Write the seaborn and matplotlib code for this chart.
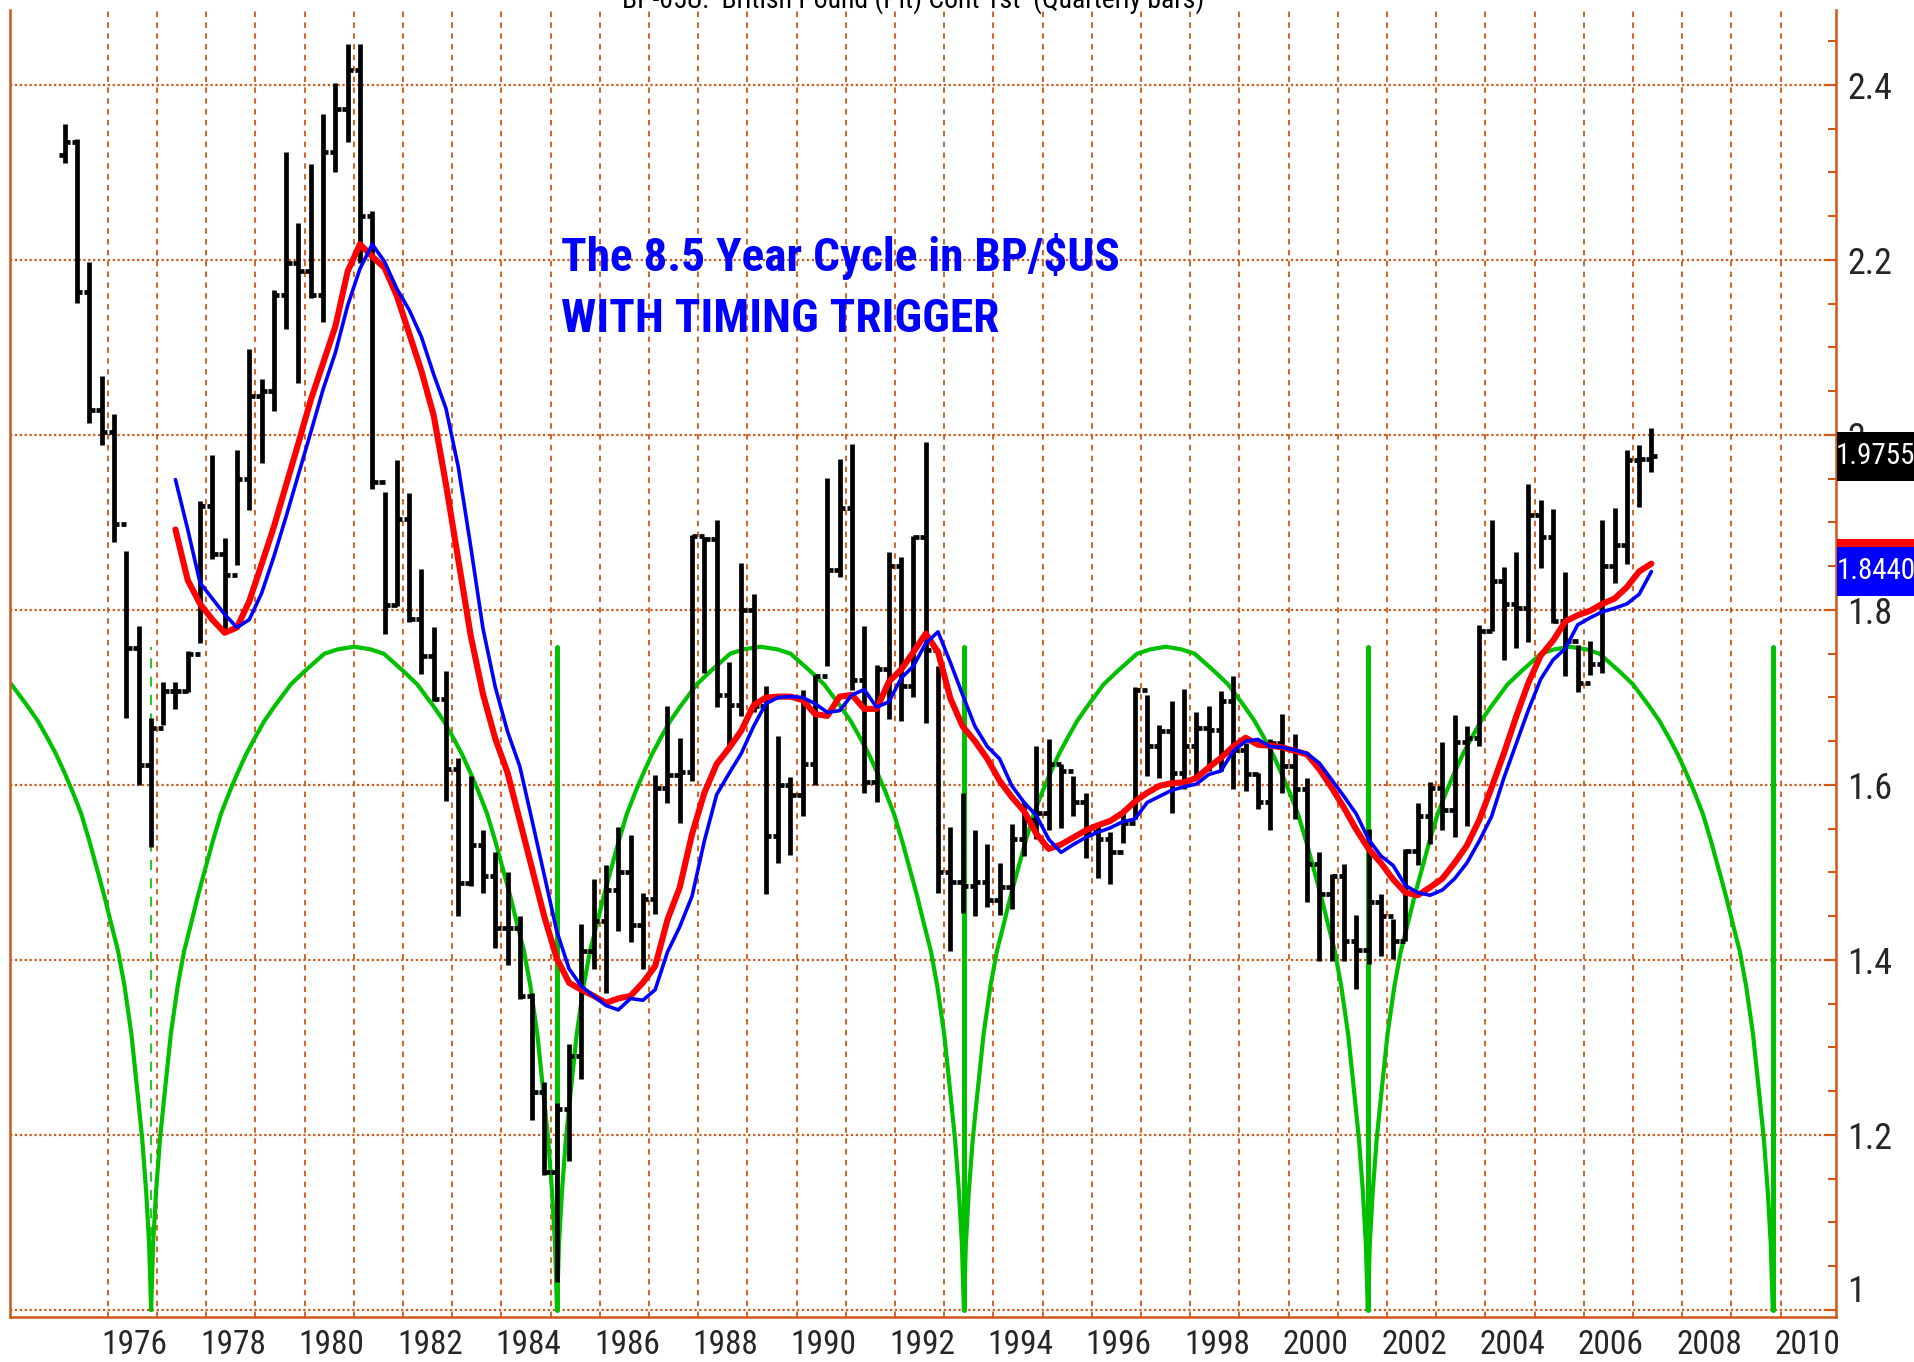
import numpy as np
import pandas as pd
import matplotlib
matplotlib.use('Agg')
import matplotlib.pyplot as plt
import seaborn as sns
from matplotlib import font_manager
from matplotlib.patches import Rectangle
from matplotlib.transforms import blended_transform_factory

sns.set_style('white')

# look for a narrow font, the original uses a condensed sans
names = {f.name for f in font_manager.fontManager.ttflist}
narrow = 'Liberation Sans'
for n in ['Liberation Sans Narrow', 'Arial Narrow', 'Roboto Condensed', 'Open Sans Condensed']:
    if n in names:
        narrow = n
        break
plt.rcParams['font.family'] = [narrow, 'DejaVu Sans']

grid_col = '#cf5719'

# quarterly bars, 1975Q1 .. 2007Q2
highs = [2.355, 2.338, 2.198, 2.067, 2.024, 1.867, 1.782, 1.677, 1.718, 1.718, 1.753, 1.925,
         1.977, 1.882, 1.983, 2.098, 2.064, 2.166, 2.323, 2.242, 2.310, 2.367, 2.402, 2.447,
         2.447, 2.256, 1.935, 1.971, 1.934, 1.847, 1.780, 1.730, 1.631, 1.610, 1.549, 1.523,
         1.500, 1.450, 1.362, 1.260, 1.237, 1.304, 1.441, 1.492, 1.508, 1.552, 1.543, 1.476,
         1.611, 1.690, 1.654, 1.886, 1.883, 1.903, 1.740, 1.854, 1.818, 1.713, 1.656, 1.609,
         1.709, 1.726, 1.951, 1.973, 1.990, 1.782, 1.737, 1.866, 1.860, 1.885, 1.992, 1.736,
         1.552, 1.591, 1.548, 1.532, 1.511, 1.555, 1.580, 1.645, 1.652, 1.624, 1.610, 1.591,
         1.557, 1.546, 1.568, 1.712, 1.703, 1.669, 1.696, 1.710, 1.683, 1.690, 1.707, 1.724,
         1.648, 1.614, 1.652, 1.681, 1.658, 1.608, 1.523, 1.498, 1.510, 1.451, 1.550, 1.475,
         1.447, 1.527, 1.579, 1.603, 1.649, 1.680, 1.667, 1.783, 1.903, 1.849, 1.866, 1.944,
         1.926, 1.915, 1.843, 1.760, 1.765, 1.903, 1.917, 1.983, 1.989, 2.008]
lows = [2.311, 2.151, 2.014, 1.988, 1.878, 1.677, 1.600, 1.529, 1.668, 1.687, 1.706, 1.762,
        1.858, 1.774, 1.851, 1.914, 1.968, 2.027, 2.121, 2.059, 2.157, 2.129, 2.300, 2.335,
        2.196, 1.938, 1.772, 1.804, 1.786, 1.727, 1.696, 1.582, 1.450, 1.484, 1.476, 1.414,
        1.394, 1.355, 1.217, 1.154, 1.032, 1.170, 1.264, 1.390, 1.362, 1.433, 1.421, 1.390,
        1.452, 1.579, 1.556, 1.605, 1.728, 1.689, 1.644, 1.679, 1.683, 1.475, 1.511, 1.520,
        1.565, 1.600, 1.736, 1.838, 1.709, 1.591, 1.581, 1.675, 1.673, 1.700, 1.671, 1.477,
        1.410, 1.454, 1.450, 1.460, 1.451, 1.458, 1.519, 1.538, 1.548, 1.551, 1.565, 1.517,
        1.494, 1.487, 1.534, 1.561, 1.610, 1.608, 1.568, 1.595, 1.610, 1.616, 1.616, 1.595,
        1.593, 1.572, 1.548, 1.591, 1.561, 1.466, 1.399, 1.399, 1.399, 1.367, 1.395, 1.405,
        1.401, 1.422, 1.509, 1.533, 1.549, 1.540, 1.553, 1.645, 1.776, 1.743, 1.756, 1.763,
        1.848, 1.785, 1.724, 1.706, 1.726, 1.728, 1.831, 1.852, 1.918, 1.958]
closes = [2.335, 2.163, 2.029, 2.003, 1.898, 1.757, 1.623, 1.665, 1.707, 1.707, 1.750, 1.919,
          1.864, 1.840, 1.950, 2.045, 2.050, 2.160, 2.196, 2.187, 2.160, 2.323, 2.372, 2.417,
          2.250, 1.946, 1.806, 1.904, 1.790, 1.747, 1.698, 1.618, 1.488, 1.531, 1.496, 1.437,
          1.437, 1.359, 1.249, 1.158, 1.230, 1.290, 1.410, 1.445, 1.480, 1.500, 1.440, 1.470,
          1.597, 1.611, 1.615, 1.885, 1.881, 1.703, 1.691, 1.800, 1.690, 1.542, 1.600, 1.589,
          1.624, 1.724, 1.846, 1.916, 1.720, 1.603, 1.732, 1.850, 1.713, 1.883, 1.754, 1.501,
          1.489, 1.485, 1.489, 1.469, 1.483, 1.538, 1.560, 1.568, 1.624, 1.616, 1.580, 1.546,
          1.538, 1.523, 1.557, 1.709, 1.644, 1.662, 1.614, 1.644, 1.665, 1.663, 1.696, 1.640,
          1.612, 1.580, 1.648, 1.622, 1.595, 1.510, 1.475, 1.496, 1.422, 1.411, 1.466, 1.450,
          1.422, 1.525, 1.564, 1.597, 1.571, 1.649, 1.654, 1.776, 1.833, 1.807, 1.802, 1.909,
          1.883, 1.787, 1.765, 1.717, 1.738, 1.850, 1.874, 1.971, 1.973, 1.9755]
first_open = 2.320

# timing trigger lines, quarterly from 1977Q2
red_line = [1.892, 1.834, 1.807,
            1.789, 1.774, 1.780, 1.810, 1.852, 1.895, 1.943, 1.991, 2.040, 2.082, 2.124, 2.187,
            2.218, 2.204, 2.191, 2.159, 2.116, 2.073, 2.022, 1.943, 1.857, 1.771, 1.704, 1.653,
            1.614, 1.559, 1.504, 1.449, 1.402, 1.374, 1.366, 1.359, 1.351, 1.356, 1.359, 1.374,
            1.393, 1.446, 1.483, 1.544, 1.591, 1.624, 1.642, 1.662, 1.691, 1.700, 1.701, 1.701,
            1.697, 1.681, 1.679, 1.701, 1.703, 1.687, 1.687, 1.718, 1.732, 1.752, 1.773, 1.752,
            1.699, 1.667, 1.650, 1.630, 1.605, 1.586, 1.570, 1.544, 1.527, 1.532, 1.540, 1.548,
            1.554, 1.559, 1.568, 1.581, 1.591, 1.599, 1.602, 1.603, 1.608, 1.620, 1.631, 1.644,
            1.654, 1.646, 1.645, 1.643, 1.639, 1.635, 1.618, 1.597, 1.574, 1.549, 1.527, 1.511,
            1.492, 1.477, 1.474, 1.483, 1.493, 1.511, 1.531, 1.560, 1.597, 1.636, 1.678, 1.717,
            1.748, 1.765, 1.787, 1.794, 1.799, 1.807, 1.813, 1.826, 1.844, 1.853]
blue_line = [1.949, 1.892, 1.831,
             1.813, 1.795, 1.780, 1.789, 1.819, 1.861, 1.907, 1.955, 2.003, 2.052, 2.094, 2.148,
             2.190, 2.218, 2.198, 2.167, 2.143, 2.112, 2.069, 2.030, 1.963, 1.873, 1.779, 1.712,
             1.661, 1.621, 1.559, 1.496, 1.433, 1.390, 1.370, 1.359, 1.348, 1.343, 1.356, 1.354,
             1.366, 1.409, 1.438, 1.473, 1.536, 1.589, 1.613, 1.636, 1.667, 1.693, 1.700, 1.701,
             1.700, 1.693, 1.683, 1.685, 1.703, 1.709, 1.689, 1.695, 1.722, 1.736, 1.762, 1.775,
             1.740, 1.703, 1.667, 1.644, 1.630, 1.599, 1.580, 1.565, 1.538, 1.523, 1.532, 1.540,
             1.546, 1.551, 1.558, 1.561, 1.580, 1.587, 1.594, 1.598, 1.601, 1.612, 1.616, 1.639,
             1.650, 1.652, 1.644, 1.643, 1.640, 1.636, 1.625, 1.606, 1.587, 1.567, 1.538, 1.519,
             1.508, 1.485, 1.477, 1.474, 1.480, 1.493, 1.511, 1.536, 1.564, 1.608, 1.647, 1.686,
             1.721, 1.743, 1.756, 1.783, 1.791, 1.798, 1.802, 1.807, 1.818, 1.844]

# 8.5 year cycle: trough dates and one half-arch
cycle_troughs = [1976.88, 1985.13, 1993.40, 2001.61, 2009.84]
arch_offsets = [0.0, 0.04, 0.10, 0.18, 0.27, 0.40, 0.54, 0.67, 0.81, 0.95, 1.08, 1.25, 1.42,
                1.60, 1.76, 1.93, 2.10, 2.30, 2.51, 2.84, 3.12, 3.52, 3.79]
arch_values = [1.0, 1.075, 1.135, 1.195, 1.245, 1.315, 1.370, 1.410, 1.441, 1.473, 1.500, 1.535,
               1.567, 1.593, 1.614, 1.635, 1.653, 1.673, 1.690, 1.715, 1.730, 1.750, 1.755]
arch_peak = 1.758
spike_top = 1.758

year_labels = list(range(1976, 2011, 2))
price_ticks = [1.0, 1.2, 1.4, 1.6, 1.8, 2.0, 2.2, 2.4]
price_labels = ['1', '1.2', '1.4', '1.6', '1.8', '2', '2.2', '2.4']
title = 'BP-05U:  British Pound (Pit) Cont 1st  (Quarterly bars)'
note = 'The 8.5 Year Cycle in BP/$US\nWITH TIMING TRIGGER'

# bar positions in decimal years (middle of each quarter)
q = pd.period_range('1975Q1', periods=len(closes), freq='Q')
bar_x = q.year + (q.quarter - 1) / 4 + 0.125
m = pd.period_range('1977Q2', periods=len(red_line), freq='Q')
ma_x = m.year + (m.quarter - 1) / 4 + 0.125
opens = [first_open] + closes[:-1]

# cycle line table, one unit per arch: trough -> peak -> next trough
cyc = []
t0 = cycle_troughs[0]
cyc.append((0, t0 - 4.125, arch_peak))
for off, v in zip(arch_offsets[::-1], arch_values[::-1]):
    cyc.append((0, t0 - off, v))
for i in range(len(cycle_troughs) - 1):
    a, b = cycle_troughs[i], cycle_troughs[i + 1]
    for off, v in zip(arch_offsets, arch_values):
        cyc.append((i + 1, a + off, v))
    cyc.append((i + 1, (a + b) / 2, arch_peak))
    for off, v in zip(arch_offsets[::-1], arch_values[::-1]):
        cyc.append((i + 1, b - off, v))
cycle_df = pd.DataFrame(cyc, columns=['arch', 'year', 'value'])

fig = plt.figure(figsize=(19.14, 13.62), dpi=100)
ax = fig.add_axes([10 / 1914, 45 / 1362, 1826 / 1914, 1307 / 1362])
ax.set_xlim(1974.012, 2011.126)
ax.set_ylim(0.992, 2.4857)

# grid
for yr in range(1976, 2011):
    ax.axvline(yr, color=grid_col, lw=1.3, dashes=(3.0, 3.0), zorder=0)
for p in price_ticks:
    ax.axhline(p, color=grid_col, lw=1.6, dashes=(1.0, 1.2), zorder=0)

# cycle
sns.lineplot(data=cycle_df, x='year', y='value', units='arch', estimator=None, sort=False,
             color='#00c000', lw=3.0, ax=ax, zorder=1)
for k, t in enumerate(cycle_troughs):
    if k == 0:
        ax.plot([t, t], [1.0, spike_top], color='#00c000', lw=1.2, dashes=(6, 5), zorder=1)
    else:
        ax.plot([t, t], [1.0, spike_top], color='#00c000', lw=3.6, zorder=1)

# price bars
ax.vlines(bar_x, lows, highs, color='black', lw=3.4, zorder=3)
ax.hlines(opens, bar_x - 0.11, bar_x, color='black', lw=3.4, zorder=3)
ax.hlines(closes, bar_x, bar_x + 0.11, color='black', lw=3.4, zorder=3)

# trigger lines
sns.lineplot(x=ma_x, y=red_line, color='#ff0000', lw=4.4, ax=ax, zorder=4, sort=False)
sns.lineplot(x=ma_x, y=blue_line, color='#0000ff', lw=2.6, ax=ax, zorder=5, sort=False)

# axes
for s in ['left', 'right', 'bottom']:
    ax.spines[s].set_color(grid_col)
    ax.spines[s].set_linewidth(1.8)
ax.spines['top'].set_visible(False)
ax.set_xticks([yr + 0.55 for yr in year_labels])
ax.set_xticklabels([str(yr) for yr in year_labels], fontsize=24)
ax.tick_params(axis='x', length=0, pad=9)
ax.yaxis.tick_right()
ax.set_yticks(price_ticks)
ax.set_yticklabels(price_labels, fontsize=26)
ax.set_yticks(np.arange(1.0, 2.45, 0.05), minor=True)
ax.tick_params(axis='y', which='major', direction='in', length=7, width=1.5, color=grid_col, pad=8)
ax.tick_params(axis='y', which='minor', direction='in', length=6, width=1.5, color=grid_col, right=True)
ax.get_yticklabels()[0].set_va('bottom')
ax.set_xlabel('')
ax.set_ylabel('')

# value boxes on the right edge
trans = blended_transform_factory(ax.transAxes, ax.transData)
box_w = 78 / 1826
box_h = 49 / 875


def value_box(val, label, face, z):
    ax.add_patch(Rectangle((1.0005, val - box_h / 2), box_w, box_h, transform=trans,
                           facecolor=face, edgecolor='none', clip_on=False, zorder=z))
    ax.text(1.0005 + box_w / 2, val, label, transform=trans, ha='center', va='center',
            fontsize=21, color='white', clip_on=False, zorder=z + 0.5)


value_box(red_line[-1], '1.8440', '#ff0000', 10)
value_box(blue_line[-1], '1.8440', '#0000ff', 11)
value_box(closes[-1], '1.9755', 'black', 11)

# headline and note
fig.text(913 / 1914, 1.0, title, ha='center', va='center', fontsize=20, color='black')
ax.text(1985.22, 2.169, note, ha='left', va='center', fontsize=34, fontweight='bold',
        color='#0000ff', linespacing=1.5, zorder=6)

fig.savefig('out.png', dpi=100)
